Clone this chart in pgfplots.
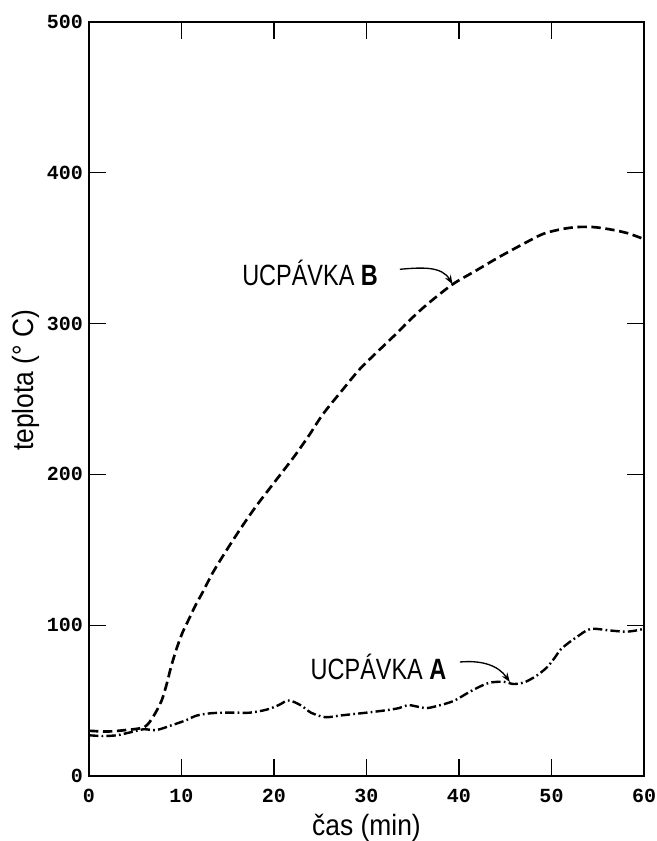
\documentclass[border=0pt]{standalone}
\usepackage{pgfplots}
\pgfplotsset{compat=1.18}
\usetikzlibrary{arrows.meta}
\usepackage{fontspec}
\setmainfont{Liberation Sans}
\newfontfamily\narrowfont[FakeStretch=0.8]{Liberation Sans}
\newfontfamily\labelfont[FakeStretch=0.9]{Liberation Sans}
\newfontfamily\tickfont{Liberation Mono}

% 1 px of the reference = 0.75pt
\begin{document}
\begin{tikzpicture}
\begin{axis}[
    scale only axis,
    width=416.25pt, height=565.5pt,
    xmin=0, xmax=60, ymin=0, ymax=500,
    xtick={0,10,...,60}, ytick={0,100,...,500},
    tick pos=both, tick align=inside,
    major tick length=13pt,
    axis line style={line width=1.4pt},
    every tick/.style={black, line width=0.8pt},
    /pgf/number format/assume math mode=true,
    ticklabel style={font=\tickfont\bfseries\fontsize{15}{15}\selectfont},
    xticklabel style={yshift=-6pt},
    yticklabel style={xshift=-1pt},
    xlabel={\labelfont\fontsize{22}{22}\selectfont čas (min)},
    ylabel={\labelfont\fontsize{22}{22}\selectfont teplota (° C)},
    xlabel style={at={(rel axis cs:0.5,0)}, anchor=center, yshift=-39pt},
    ylabel style={at={(rel axis cs:0,0.525)}, anchor=center, yshift=47pt},
    clip=false,
]
% UCPAVKA B
\addplot[black, line width=2pt, dash pattern=on 7pt off 3.5pt, smooth] coordinates {
(0,30) (2,29.5) (4,30.5) (6,32.5) (7,40) (7.85,50) (8.4,61) (8.9,73) (9.5,85)
(10.1,95) (10.8,104) (11.5,113) (12.3,122) (13.4,135) (14.9,150) (16.6,166)
(18.2,180) (20.2,196) (22.2,212) (23.8,226) (25.3,240) (27.4,256) (29.3,270) (31.3,282)
(33,292) (34.8,303) (36.6,313) (39.3,326) (41.8,335) (44.3,344) (47,353)
(49.1,359.5) (51,362.5) (52.7,364) (54.5,364) (56.3,362.5) (58.2,360) (60,356)
};
% UCPAVKA A
\addplot[black, line width=1.8pt, dash pattern=on 7pt off 2.4pt on 1.3pt off 2.4pt, smooth] coordinates {
(0,27) (1.5,26.5) (3,27) (4.5,29) (5.9,31) (7.3,30.5) (9.1,34) (10.5,37)
(11.6,40) (13,41.5) (14.5,42) (16,42) (17.4,42) (19.2,44) (20.5,47) (21.4,50)
(22,49.5) (23,46.5) (24,42) (25.5,39) (27,40) (28.5,41) (30,42) (32,43.5)
(33.5,45) (34.5,47) (35.5,46) (36.5,45) (38,47) (39.5,50) (41.2,56) (42.5,60)
(43.4,62) (44.8,62.5) (45.9,61) (47,62) (47.7,64) (48.5,67) (49.5,72) (50.3,78)
(51,84) (52,89) (52.7,92) (54.2,97.5) (56.3,96.5) (58.1,95.7) (59.6,97) (60,98)
};
\node[font=\narrowfont\fontsize{22}{22}\selectfont] at (axis cs:23.9,333.5) {UCPÁVKA \textbf{B}};
\node[font=\narrowfont\fontsize{22}{22}\selectfont] at (axis cs:31.3,72.3) {UCPÁVKA \textbf{A}};
\draw[line width=1pt, -{Stealth[length=7pt,width=5pt]}] (axis cs:33.6,336) to[out=5,in=120] (axis cs:39.3,326);
\draw[line width=1pt, -{Stealth[length=7pt,width=5pt]}] (axis cs:40.1,75.6) to[out=5,in=125] (axis cs:45.5,62.3);
\end{axis}
\pgfresetboundingbox
\path[use as bounding box] ([shift={(-66.75pt,-48.75pt)}]current axis.south west) rectangle ([shift={(9.75pt,16.5pt)}]current axis.north east);
\end{tikzpicture}
\end{document}
